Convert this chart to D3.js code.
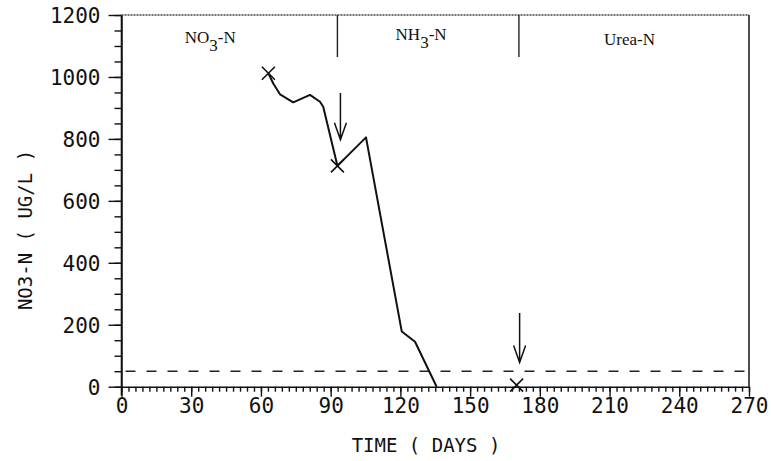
<html>
<head>
  <meta charset="utf-8">
  <title>NO3-N</title>
  <script src="https://cdn.jsdelivr.net/npm/d3@7"></script>
  <style>
    body { margin: 0; background: #fff; }
    svg text { fill: #111; }
    .plot { font-family: "DejaVu Sans Mono", monospace; }
    .phase { font-family: "Liberation Serif", serif; font-size: 17px; }
  </style>
</head>
<body>
<div id="chart"></div>
<script type="text/javascript">

// measured NO3-N series
var days = [63.2, 65.3, 68.2, 73.9, 81.1, 85.4, 86.8, 92.9, 105.2, 120.6, 126.3, 135.6];
var no3 = [1012, 979, 944, 918, 942, 920, 904, 713, 805, 178, 145, 0];

// points marked with an X
var markDays = [63.2, 92.9, 170];
var markVals = [1012, 713, 5];

// arrows (day, from value, to value)
var arrowDays = [94.2, 171.3];
var arrowTop = [948, 238];
var arrowBottom = [797, 78];

// nitrogen source phases
var phaseBounds = [92.9, 171];
var phaseNames = ["NO", "NH", "Urea-N"];
var phaseSubs = ["3", "3", ""];
var phaseCenters = [38.2, 128.9, 218.6];

var threshold = 50;

var xTicks = d3.range(0, 271, 30);
var xMinor = d3.range(0, 271, 3);
var yTicks = d3.range(0, 1201, 200);
var yMinor = d3.range(0, 1201, 50);

var w = 771, h = 461;
var x = d3.scaleLinear().domain([0, 270]).range([121.5, 749]);
var y = d3.scaleLinear().domain([0, 1200]).range([386.7, 15]);

var svg = d3.select("#chart").append("svg")
    .attr("width", w)
    .attr("height", h)
    .attr("class", "plot");

// minor ticks
svg.append("g")
   .attr("transform", "translate(0," + y(0) + ")")
   .call(d3.axisBottom(x).tickValues(xMinor).tickSize(5).tickFormat(""))
   .call(function(g) { g.select(".domain").remove(); });
svg.append("g")
   .attr("transform", "translate(" + x(0) + ",0)")
   .call(d3.axisLeft(y).tickValues(yMinor).tickSize(7).tickFormat(""))
   .call(function(g) { g.select(".domain").remove(); });

// major axes
var xAxis = svg.append("g")
   .attr("transform", "translate(0," + y(0) + ")")
   .call(d3.axisBottom(x).tickValues(xTicks).tickSize(10).tickSizeOuter(0).tickFormat(d3.format("d")));
xAxis.selectAll("text")
   .attr("y", 26).attr("dy", 0)
   .attr("font-size", "21px")
   .attr("font-family", "DejaVu Sans Mono, monospace");

var yAxis = svg.append("g")
   .attr("transform", "translate(" + x(0) + ",0)")
   .call(d3.axisLeft(y).tickValues(yTicks).tickSize(13).tickSizeOuter(0).tickFormat(d3.format("d")));
yAxis.selectAll("text")
   .attr("x", -21).attr("dy", "0.36em")
   .attr("font-size", "21px")
   .attr("font-family", "DejaVu Sans Mono, monospace");

svg.selectAll(".tick line, .domain")
   .attr("stroke", "#111")
   .attr("stroke-width", 1.4);

// extend y axis line a little below the x axis
svg.append("line")
   .attr("x1", x(0)).attr("x2", x(0))
   .attr("y1", y(1200)).attr("y2", y(0) + 9)
   .attr("stroke", "#111").attr("stroke-width", 1.6);

// frame: top and right
svg.append("line")
   .attr("x1", x(0)).attr("x2", x(270))
   .attr("y1", y(1200)).attr("y2", y(1200))
   .attr("stroke", "#444").attr("stroke-width", 1.3)
   .attr("stroke-dasharray", "2,1");
svg.append("line")
   .attr("x1", x(270)).attr("x2", x(270))
   .attr("y1", y(1200)).attr("y2", y(0))
   .attr("stroke", "#222").attr("stroke-width", 1.6);

// phase dividers
svg.selectAll(".divider")
   .data(phaseBounds)
   .enter()
   .append("line")
   .attr("class", "divider")
   .attr("x1", function(d) { return x(d); })
   .attr("x2", function(d) { return x(d); })
   .attr("y1", y(1200))
   .attr("y2", y(1200) + 42)
   .attr("stroke", "#222").attr("stroke-width", 1.4);

// phase labels
var ph = svg.selectAll(".phase")
   .data(phaseNames)
   .enter()
   .append("text")
   .attr("class", "phase")
   .attr("text-anchor", "middle")
   .attr("x", function(d, i) { return x(phaseCenters[i]); })
   .attr("y", function(d, i) { return [43, 40, 45][i]; });
ph.append("tspan").text(function(d) { return d; });
ph.filter(function(d, i) { return phaseSubs[i] != ""; })
  .append("tspan").attr("dy", 8).text(function(d) { return phaseSubs[phaseNames.indexOf(d)]; });
ph.filter(function(d, i) { return phaseSubs[i] != ""; })
  .append("tspan").attr("dy", -8).text("-N");

// threshold dashed line
svg.append("line")
   .attr("x1", x(0) + 4).attr("x2", x(270))
   .attr("y1", y(threshold)).attr("y2", y(threshold))
   .attr("stroke", "#222").attr("stroke-width", 1.4)
   .attr("stroke-dasharray", "10,11");

// data line
var line = d3.line()
   .x(function(d, i) { return x(days[i]); })
   .y(function(d) { return y(d); });
svg.append("path")
   .datum(no3)
   .attr("d", line)
   .attr("fill", "none")
   .attr("stroke", "#111")
   .attr("stroke-width", 2)
   .attr("stroke-linejoin", "round");

// X markers
var s = 6.5;
svg.selectAll(".mark")
   .data(markVals)
   .enter()
   .append("path")
   .attr("class", "mark")
   .attr("d", function(d, i) {
      var cx = x(markDays[i]), cy = y(d);
      return "M" + (cx - s) + "," + (cy - s) + "L" + (cx + s) + "," + (cy + s) +
             "M" + (cx - s) + "," + (cy + s) + "L" + (cx + s) + "," + (cy - s);
   })
   .attr("stroke", "#111")
   .attr("stroke-width", 1.6)
   .attr("fill", "none");

// arrows
svg.selectAll(".arrow")
   .data(arrowDays)
   .enter()
   .append("path")
   .attr("class", "arrow")
   .attr("d", function(d, i) {
      var ax = x(d), y1 = y(arrowTop[i]), y2 = y(arrowBottom[i]);
      return "M" + ax + "," + y1 + "L" + ax + "," + y2 +
             "M" + (ax - 6) + "," + (y2 - 17) + "L" + ax + "," + y2 + "L" + (ax + 6) + "," + (y2 - 17);
   })
   .attr("stroke", "#111")
   .attr("stroke-width", 1.5)
   .attr("fill", "none");

// axis titles
svg.append("text")
   .attr("text-anchor", "middle")
   .attr("x", 426).attr("y", 452)
   .attr("font-size", "19px")
   .text("TIME ( DAYS )");

svg.append("text")
   .attr("text-anchor", "middle")
   .attr("transform", "translate(32,230) rotate(-90)")
   .attr("font-size", "19px")
   .text("NO3-N ( UG/L )");

</script>
</body>
</html>
